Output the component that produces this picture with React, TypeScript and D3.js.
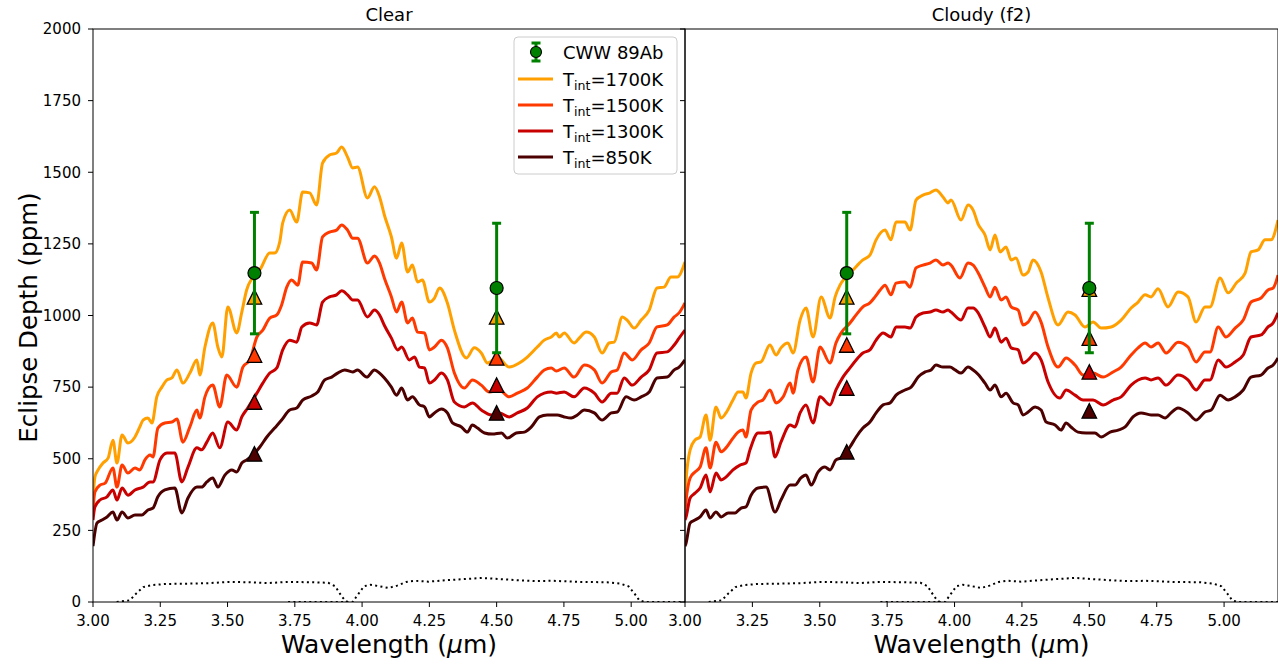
import React from 'react';
import * as d3 from 'd3';

// ---------- data (wavelength µm, eclipse depth ppm) ----------
const clear1700: [number, number][] = [
  [3.0, 366], [3.007, 436], [3.019, 461], [3.037, 485], [3.056, 502], [3.074, 565], [3.089, 485], [3.108, 583],
  [3.13, 555], [3.156, 576], [3.174, 611], [3.186, 635], [3.204, 642], [3.219, 625], [3.237, 716], [3.256, 750],
  [3.275, 775], [3.293, 782], [3.312, 810], [3.334, 764], [3.36, 799], [3.386, 845], [3.397, 792], [3.416, 890],
  [3.445, 974], [3.464, 890], [3.479, 855], [3.501, 1030], [3.534, 939], [3.553, 1012], [3.571, 1089], [3.594, 1134],
  [3.62, 1159], [3.657, 1218], [3.675, 1218], [3.694, 1257], [3.705, 1323], [3.731, 1368], [3.757, 1326], [3.779, 1431],
  [3.805, 1428], [3.831, 1386], [3.853, 1532], [3.879, 1560], [3.905, 1567], [3.924, 1588], [3.946, 1553], [3.965, 1515],
  [3.983, 1518], [4.02, 1410], [4.046, 1449], [4.065, 1414], [4.083, 1350], [4.109, 1274], [4.128, 1200], [4.147, 1253],
  [4.169, 1152], [4.187, 1176], [4.206, 1117], [4.224, 1124], [4.25, 1047], [4.269, 1061], [4.288, 1096], [4.317, 1044],
  [4.343, 949], [4.388, 852], [4.417, 887], [4.443, 869], [4.466, 834], [4.503, 855], [4.547, 820], [4.584, 834],
  [4.614, 855], [4.651, 890], [4.677, 914], [4.703, 925], [4.722, 939], [4.733, 925], [4.751, 939], [4.788, 904],
  [4.807, 921], [4.833, 942], [4.863, 925], [4.892, 869], [4.918, 904], [4.937, 907], [4.967, 995], [4.985, 984],
  [5.011, 956], [5.037, 984], [5.067, 1019], [5.096, 1096], [5.122, 1099], [5.148, 1134], [5.171, 1134], [5.2, 1187],
];
const clear1500: [number, number][] = [
  [3.0, 321], [3.007, 384], [3.026, 408], [3.045, 415], [3.074, 468], [3.089, 401], [3.108, 478], [3.13, 450],
  [3.156, 468], [3.174, 461], [3.193, 496], [3.212, 513], [3.223, 506], [3.241, 607], [3.267, 625], [3.293, 628],
  [3.312, 639], [3.334, 558], [3.36, 611], [3.386, 670], [3.397, 642], [3.416, 716], [3.445, 757], [3.471, 681],
  [3.497, 792], [3.534, 750], [3.557, 820], [3.583, 845], [3.609, 925], [3.631, 949], [3.657, 991], [3.683, 1002],
  [3.701, 1037], [3.72, 1099], [3.738, 1124], [3.761, 1106], [3.779, 1187], [3.813, 1183], [3.831, 1159], [3.853, 1274],
  [3.879, 1291], [3.905, 1298], [3.924, 1316], [3.946, 1298], [3.965, 1270], [3.983, 1270], [4.02, 1183], [4.046, 1208],
  [4.065, 1183], [4.083, 1130], [4.109, 1065], [4.128, 1012], [4.147, 1047], [4.169, 974], [4.187, 991], [4.206, 942],
  [4.232, 939], [4.25, 880], [4.269, 890], [4.295, 914], [4.317, 887], [4.343, 799], [4.38, 747], [4.41, 775],
  [4.443, 757], [4.473, 733], [4.51, 740], [4.547, 716], [4.577, 729], [4.614, 747], [4.651, 785], [4.677, 810],
  [4.703, 817], [4.722, 806], [4.751, 817], [4.788, 785], [4.826, 827], [4.863, 810], [4.892, 764], [4.926, 803],
  [4.948, 810], [4.974, 869], [5.004, 845], [5.037, 880], [5.067, 904], [5.096, 960], [5.134, 967], [5.16, 995],
  [5.178, 1009], [5.2, 1044],
];
const clear1300: [number, number][] = [
  [3.0, 286], [3.007, 332], [3.026, 356], [3.052, 367], [3.074, 391], [3.089, 356], [3.108, 398], [3.13, 373],
  [3.156, 391], [3.186, 401], [3.212, 419], [3.223, 419], [3.249, 496], [3.275, 520], [3.304, 520], [3.33, 419],
  [3.353, 471], [3.386, 538], [3.404, 531], [3.423, 558], [3.445, 590], [3.471, 538], [3.501, 628], [3.534, 600],
  [3.553, 646], [3.575, 677], [3.609, 729], [3.631, 764], [3.657, 799], [3.683, 817], [3.705, 880], [3.731, 914],
  [3.757, 907], [3.776, 960], [3.805, 974], [3.831, 967], [3.853, 1047], [3.879, 1065], [3.905, 1072], [3.924, 1086],
  [3.946, 1072], [3.965, 1054], [3.983, 1054], [4.02, 995], [4.046, 1019], [4.065, 1002], [4.083, 965], [4.109, 921],
  [4.132, 880], [4.147, 890], [4.176, 845], [4.195, 855], [4.213, 820], [4.232, 817], [4.25, 764], [4.269, 775],
  [4.295, 799], [4.317, 775], [4.343, 698], [4.38, 681], [4.41, 695], [4.443, 670], [4.481, 653], [4.51, 660],
  [4.547, 646], [4.577, 660], [4.614, 677], [4.651, 716], [4.677, 729], [4.703, 733], [4.722, 729], [4.751, 733],
  [4.788, 716], [4.826, 747], [4.863, 729], [4.892, 698], [4.926, 729], [4.948, 729], [4.974, 782], [5.004, 757],
  [5.037, 785], [5.067, 810], [5.096, 869], [5.134, 873], [5.16, 897], [5.178, 921], [5.2, 949],
];
const clear850: [number, number][] = [
  [3.0, 195], [3.015, 276], [3.033, 286], [3.052, 297], [3.074, 314], [3.089, 286], [3.108, 314], [3.13, 293],
  [3.156, 304], [3.182, 304], [3.204, 321], [3.223, 328], [3.241, 367], [3.267, 391], [3.304, 398], [3.33, 311],
  [3.353, 363], [3.386, 401], [3.404, 401], [3.423, 419], [3.445, 433], [3.464, 401], [3.49, 443], [3.516, 461],
  [3.534, 454], [3.553, 485], [3.571, 496], [3.594, 513], [3.62, 541], [3.646, 576], [3.675, 607], [3.701, 635],
  [3.731, 670], [3.757, 677], [3.779, 705], [3.813, 719], [3.835, 733], [3.861, 775], [3.887, 785], [3.909, 799],
  [3.935, 810], [3.965, 803], [3.983, 810], [4.017, 785], [4.046, 810], [4.065, 799], [4.083, 782], [4.109, 750],
  [4.128, 722], [4.147, 747], [4.169, 705], [4.187, 716], [4.213, 688], [4.232, 681], [4.25, 646], [4.269, 660],
  [4.295, 674], [4.317, 660], [4.336, 625], [4.369, 611], [4.391, 593], [4.41, 618], [4.429, 607], [4.455, 590],
  [4.484, 586], [4.518, 590], [4.54, 572], [4.573, 590], [4.603, 593], [4.629, 611], [4.659, 646], [4.688, 653],
  [4.725, 653], [4.751, 646], [4.777, 642], [4.8, 653], [4.826, 670], [4.863, 660], [4.892, 635], [4.926, 660],
  [4.948, 663], [4.981, 716], [5.011, 705], [5.037, 716], [5.067, 733], [5.096, 782], [5.134, 785], [5.16, 810],
  [5.178, 820], [5.2, 845],
];

const cloudy1700: [number, number][] = [
  [3.0, 366], [3.004, 426], [3.019, 531], [3.037, 565], [3.056, 576], [3.078, 653], [3.093, 565], [3.115, 681],
  [3.134, 642], [3.152, 660], [3.178, 705], [3.197, 733], [3.215, 733], [3.226, 712], [3.245, 799], [3.263, 834],
  [3.282, 838], [3.315, 897], [3.338, 862], [3.356, 887], [3.382, 904], [3.401, 869], [3.427, 984], [3.449, 1026],
  [3.475, 925], [3.505, 1065], [3.538, 991], [3.557, 1065], [3.575, 1106], [3.597, 1134], [3.623, 1159], [3.66, 1194],
  [3.686, 1211], [3.709, 1264], [3.742, 1298], [3.764, 1264], [3.783, 1326], [3.816, 1326], [3.835, 1298], [3.857, 1403],
  [3.883, 1420], [3.909, 1428], [3.931, 1438], [3.957, 1414], [3.976, 1393], [3.987, 1403], [4.024, 1333], [4.05, 1386],
  [4.069, 1368], [4.087, 1320], [4.113, 1281], [4.132, 1229], [4.15, 1281], [4.169, 1222], [4.191, 1239], [4.21, 1194],
  [4.228, 1201], [4.254, 1141], [4.273, 1152], [4.291, 1194], [4.321, 1152], [4.347, 1061], [4.384, 967], [4.421, 1012],
  [4.447, 1002], [4.484, 960], [4.514, 977], [4.544, 956], [4.581, 960], [4.618, 984], [4.655, 1026], [4.681, 1047],
  [4.707, 1072], [4.729, 1065], [4.755, 1093], [4.792, 1030], [4.829, 1082], [4.866, 1065], [4.896, 977], [4.929, 1030],
  [4.948, 1030], [4.985, 1131], [5.015, 1079], [5.045, 1113], [5.078, 1148], [5.1, 1222], [5.126, 1229], [5.152, 1264],
  [5.174, 1264], [5.2, 1333],
];
const cloudy1500: [number, number][] = [
  [3.0, 321], [3.004, 356], [3.019, 433], [3.037, 454], [3.056, 471], [3.078, 538], [3.093, 468], [3.115, 558],
  [3.134, 524], [3.152, 538], [3.178, 572], [3.197, 593], [3.215, 600], [3.226, 576], [3.245, 670], [3.271, 698],
  [3.289, 705], [3.315, 740], [3.338, 695], [3.364, 716], [3.39, 764], [3.401, 729], [3.419, 810], [3.449, 855],
  [3.475, 768], [3.501, 890], [3.538, 834], [3.56, 904], [3.579, 939], [3.612, 974], [3.635, 1002], [3.66, 1030],
  [3.686, 1044], [3.705, 1065], [3.724, 1089], [3.742, 1106], [3.764, 1072], [3.783, 1113], [3.816, 1117], [3.835, 1099],
  [3.857, 1166], [3.883, 1176], [3.909, 1183], [3.931, 1194], [3.957, 1176], [3.976, 1183], [3.987, 1176], [4.02, 1131],
  [4.05, 1183], [4.069, 1176], [4.087, 1150], [4.113, 1099], [4.132, 1065], [4.15, 1099], [4.173, 1054], [4.191, 1065],
  [4.21, 1030], [4.236, 1019], [4.254, 967], [4.273, 977], [4.299, 1012], [4.321, 977], [4.347, 890], [4.384, 820],
  [4.414, 852], [4.447, 827], [4.477, 792], [4.514, 799], [4.551, 785], [4.588, 803], [4.618, 820], [4.655, 862],
  [4.681, 887], [4.707, 904], [4.729, 890], [4.755, 904], [4.785, 869], [4.829, 907], [4.866, 890], [4.896, 838],
  [4.929, 873], [4.948, 873], [4.978, 960], [5.007, 925], [5.041, 956], [5.071, 984], [5.1, 1047], [5.137, 1061],
  [5.163, 1089], [5.182, 1096], [5.2, 1141],
];
const cloudy1300: [number, number][] = [
  [3.0, 286], [3.004, 297], [3.019, 363], [3.037, 380], [3.056, 398], [3.078, 443], [3.093, 384], [3.115, 450],
  [3.134, 426], [3.152, 436], [3.178, 461], [3.204, 478], [3.226, 485], [3.241, 531], [3.271, 590], [3.297, 590],
  [3.315, 593], [3.334, 506], [3.356, 558], [3.39, 618], [3.408, 611], [3.427, 660], [3.449, 688], [3.475, 625],
  [3.501, 716], [3.538, 688], [3.56, 740], [3.586, 785], [3.612, 817], [3.635, 845], [3.66, 869], [3.686, 880],
  [3.709, 914], [3.735, 939], [3.764, 925], [3.783, 960], [3.816, 960], [3.835, 956], [3.857, 995], [3.883, 1009],
  [3.909, 1012], [3.931, 1019], [3.957, 1012], [3.976, 1019], [3.987, 1012], [4.024, 984], [4.05, 1026], [4.069, 1026],
  [4.087, 1010], [4.113, 960], [4.132, 925], [4.15, 956], [4.173, 907], [4.191, 921], [4.21, 887], [4.236, 880],
  [4.254, 834], [4.273, 845], [4.299, 869], [4.321, 845], [4.347, 768], [4.391, 712], [4.414, 740], [4.447, 722],
  [4.477, 705], [4.514, 705], [4.551, 688], [4.588, 705], [4.618, 716], [4.655, 757], [4.681, 775], [4.707, 782],
  [4.729, 775], [4.755, 782], [4.785, 757], [4.829, 792], [4.866, 775], [4.896, 740], [4.929, 775], [4.948, 775],
  [4.978, 845], [5.007, 820], [5.041, 838], [5.071, 862], [5.1, 925], [5.137, 932], [5.163, 960], [5.182, 974],
  [5.2, 1009],
];
const cloudy850: [number, number][] = [
  [3.0, 195], [3.004, 206], [3.019, 276], [3.037, 286], [3.056, 297], [3.078, 321], [3.093, 293], [3.115, 314],
  [3.134, 297], [3.16, 311], [3.186, 311], [3.208, 328], [3.226, 332], [3.245, 373], [3.271, 398], [3.301, 401],
  [3.334, 314], [3.356, 356], [3.39, 408], [3.408, 408], [3.43, 433], [3.449, 443], [3.468, 408], [3.494, 454],
  [3.519, 471], [3.538, 461], [3.56, 496], [3.586, 506], [3.612, 541], [3.635, 576], [3.66, 607], [3.686, 628],
  [3.709, 660], [3.735, 688], [3.761, 695], [3.783, 722], [3.816, 740], [3.839, 750], [3.865, 785], [3.891, 803],
  [3.913, 810], [3.931, 827], [3.957, 820], [3.983, 820], [4.002, 810], [4.024, 799], [4.05, 820], [4.069, 810],
  [4.087, 795], [4.113, 764], [4.132, 740], [4.15, 757], [4.173, 716], [4.191, 729], [4.217, 695], [4.236, 688],
  [4.254, 653], [4.273, 663], [4.299, 681], [4.321, 670], [4.34, 628], [4.373, 618], [4.395, 600], [4.414, 625],
  [4.432, 611], [4.458, 593], [4.488, 590], [4.521, 590], [4.544, 576], [4.577, 593], [4.607, 600], [4.633, 611],
  [4.662, 646], [4.692, 660], [4.729, 653], [4.755, 653], [4.781, 642], [4.803, 660], [4.829, 677], [4.866, 660],
  [4.896, 635], [4.929, 663], [4.952, 670], [4.985, 722], [5.015, 705], [5.041, 716], [5.071, 740], [5.1, 785],
  [5.137, 792], [5.163, 817], [5.182, 827], [5.2, 852],
];

// binned model values at the two photometric bands
const bandWl = [3.6, 4.5];
const clearBin1700 = [1065, 995];
const clearBin1500 = [862, 852];
const clearBin1300 = [698, 757];
const clearBin850 = [517, 660];
const cloudyBin1700 = [1065, 1092];
const cloudyBin1500 = [897, 921];
const cloudyBin1300 = [747, 803];
const cloudyBin850 = [524, 667];

// observed eclipse depths
const obsDepth = [1148, 1096];
const obsErr = [212, 226];

// filter response curves (scaled, ppm units)
const filterCh1: [number, number][] = [
  [3.088, 0], [3.137, 6], [3.162, 31], [3.187, 52], [3.22, 59], [3.27, 63], [3.35, 64], [3.435, 66], [3.5, 70],
  [3.584, 69], [3.65, 66], [3.717, 70], [3.816, 69], [3.874, 67], [3.9, 55], [3.924, 20], [3.94, 2], [3.957, 0],
];
const filterCh2: [number, number][] = [
  [3.725, 0], [3.965, 0], [3.98, 20], [4.007, 55], [4.03, 60], [4.065, 55], [4.098, 49], [4.13, 57], [4.164, 70],
  [4.197, 74], [4.247, 71], [4.313, 76], [4.396, 81], [4.445, 84], [4.495, 81], [4.578, 76], [4.644, 73], [4.71, 74],
  [4.81, 70], [4.91, 69], [4.96, 64], [4.99, 55], [5.015, 26], [5.03, 6], [5.05, 0], [5.2, 0],
];

const tempLabels = ['1700K', '1500K', '1300K', '850K'];
const tempColors = ['#ffa000', '#ff3a00', '#c80000', '#4d0000'];
const yTicks = [0, 250, 500, 750, 1000, 1250, 1500, 1750, 2000];
const xTicks = [3.0, 3.25, 3.5, 3.75, 4.0, 4.25, 4.5, 4.75, 5.0];

const panelData = [
  {
    title: 'Clear',
    curves: [clear1700, clear1500, clear1300, clear850],
    bins: [clearBin1700, clearBin1500, clearBin1300, clearBin850],
  },
  {
    title: 'Cloudy (f2)',
    curves: [cloudy1700, cloudy1500, cloudy1300, cloudy850],
    bins: [cloudyBin1700, cloudyBin1500, cloudyBin1300, cloudyBin850],
  },
];

// ---------- layout ----------
const W = 1278;
const H = 658;
const TOP = 29;
const BOTTOM = 602;
const PANEL_X = [
  [93, 685],
  [685, 1278],
];
const FONT = 'DejaVu Sans, sans-serif';

const y = d3.scaleLinear().domain([0, 2000]).range([BOTTOM, TOP]);

function tri(cx: number, cy: number, s: number) {
  return `M${cx},${cy - s / 2}L${cx - s / 2},${cy + s / 2}L${cx + s / 2},${cy + s / 2}Z`;
}

function Panel({ idx }: { idx: number }) {
  const [x0, x1] = PANEL_X[idx];
  const p = panelData[idx];
  const x = d3.scaleLinear().domain([3.0, 5.2]).range([x0, x1]);
  const line = d3
    .line<[number, number]>()
    .x((d) => x(d[0]))
    .y((d) => y(d[1]))
    .curve(d3.curveMonotoneX);
  const flin = d3
    .line<[number, number]>()
    .x((d) => x(d[0]))
    .y((d) => y(d[1]));
  const clipId = `clip${idx}`;
  const cx = (x0 + x1) / 2;
  return (
    <g>
      <defs>
        <clipPath id={clipId}>
          <rect x={x0} y={TOP} width={x1 - x0} height={BOTTOM - TOP} />
        </clipPath>
      </defs>
      <g clipPath={`url(#${clipId})`}>
        {p.curves.map((c, i) => (
          <path key={i} d={line(c) || ''} fill="none" stroke={tempColors[i]} strokeWidth={3} strokeLinejoin="round" />
        ))}
        {[filterCh1, filterCh2].map((f, i) => (
          <path key={'f' + i} d={flin(f) || ''} fill="none" stroke="#000" strokeWidth={2} strokeDasharray="2 3.3" />
        ))}
        {p.bins.map((b, i) =>
          bandWl.map((w, j) => (
            <path key={`t${i}-${j}`} d={tri(x(w), y(b[j]), 14.5)} fill={tempColors[i]} stroke="#000" strokeWidth={1.3} />
          ))
        )}
        {bandWl.map((w, j) => {
          const px = x(w);
          const yt = y(obsDepth[j] + obsErr[j]);
          const yb = y(obsDepth[j] - obsErr[j]);
          return (
            <g key={'o' + j}>
              <line x1={px} x2={px} y1={yt} y2={yb} stroke="#008000" strokeWidth={3} />
              <line x1={px - 4.5} x2={px + 4.5} y1={yt} y2={yt} stroke="#008000" strokeWidth={3} />
              <line x1={px - 4.5} x2={px + 4.5} y1={yb} y2={yb} stroke="#008000" strokeWidth={3} />
              <circle cx={px} cy={y(obsDepth[j])} r={6.5} fill="#008000" stroke="#000" strokeWidth={1.2} />
            </g>
          );
        })}
      </g>
      {/* frame */}
      <rect x={x0} y={TOP} width={x1 - x0} height={BOTTOM - TOP} fill="none" stroke="#000" strokeWidth={1} />
      {/* y ticks */}
      {yTicks.map((t) => (
        <g key={'y' + t}>
          <line x1={x0 - 5} x2={x0} y1={y(t)} y2={y(t)} stroke="#000" strokeWidth={1} />
          {idx === 0 && (
            <text x={x0 - 12} y={y(t) + 5.3} textAnchor="end" fontSize={15} fontFamily={FONT}>
              {t}
            </text>
          )}
        </g>
      ))}
      {/* x ticks */}
      {xTicks.map((t) => (
        <g key={'x' + t}>
          <line x1={x(t)} x2={x(t)} y1={BOTTOM} y2={BOTTOM + 5} stroke="#000" strokeWidth={1} />
          <text x={x(t)} y={BOTTOM + 23.5} textAnchor="middle" fontSize={15} fontFamily={FONT}>
            {t.toFixed(2)}
          </text>
        </g>
      ))}
      <text x={cx} y={21} textAnchor="middle" fontSize={18} fontFamily={FONT}>
        {p.title}
      </text>
      <text x={cx} y={653} textAnchor="middle" fontSize={25} fontFamily={FONT}>
        Wavelength (<tspan fontStyle="italic">μ</tspan>m)
      </text>
    </g>
  );
}

function Legend() {
  const lx = 514;
  const ly = 37;
  const rows = [52, 79, 105, 131, 157];
  return (
    <g fontFamily={FONT}>
      <rect x={lx} y={ly} width={163} height={137} rx={4} fill="#fff" fillOpacity={0.8} stroke="#cccccc" strokeWidth={1} />
      <g>
        <line x1={536} x2={536} y1={rows[0] - 9} y2={rows[0] + 9} stroke="#008000" strokeWidth={3} />
        <line x1={531.5} x2={540.5} y1={rows[0] - 9} y2={rows[0] - 9} stroke="#008000" strokeWidth={3} />
        <line x1={531.5} x2={540.5} y1={rows[0] + 9} y2={rows[0] + 9} stroke="#008000" strokeWidth={3} />
        <circle cx={536} cy={rows[0]} r={5.5} fill="#008000" stroke="#000" strokeWidth={1.1} />
        <text x={563} y={rows[0] + 6.5} fontSize={18}>
          CWW 89Ab
        </text>
      </g>
      {tempLabels.map((lab, i) => (
        <g key={lab}>
          <line x1={518} x2={553} y1={rows[i + 1]} y2={rows[i + 1]} stroke={tempColors[i]} strokeWidth={3} />
          <text x={563} y={rows[i + 1] + 6.5} fontSize={18}>
            T
            <tspan fontSize={12.6} dy={4}>
              int
            </tspan>
            <tspan fontSize={18} dy={-4}>
              ={lab}
            </tspan>
          </text>
        </g>
      ))}
    </g>
  );
}

export default function App() {
  return (
    <svg
      width={W}
      height={H}
      viewBox={`0 0 ${W} ${H}`}
      style={{ position: 'absolute', left: 0, top: 0, background: '#fff' }}
    >
      <rect width={W} height={H} fill="#fff" />
      <Panel idx={0} />
      <Panel idx={1} />
      <Legend />
      <text
        transform={`translate(37,${(TOP + BOTTOM) / 2 + 2}) rotate(-90)`}
        textAnchor="middle"
        fontSize={24.5}
        fontFamily={FONT}
      >
        Eclipse Depth (ppm)
      </text>
    </svg>
  );
}
